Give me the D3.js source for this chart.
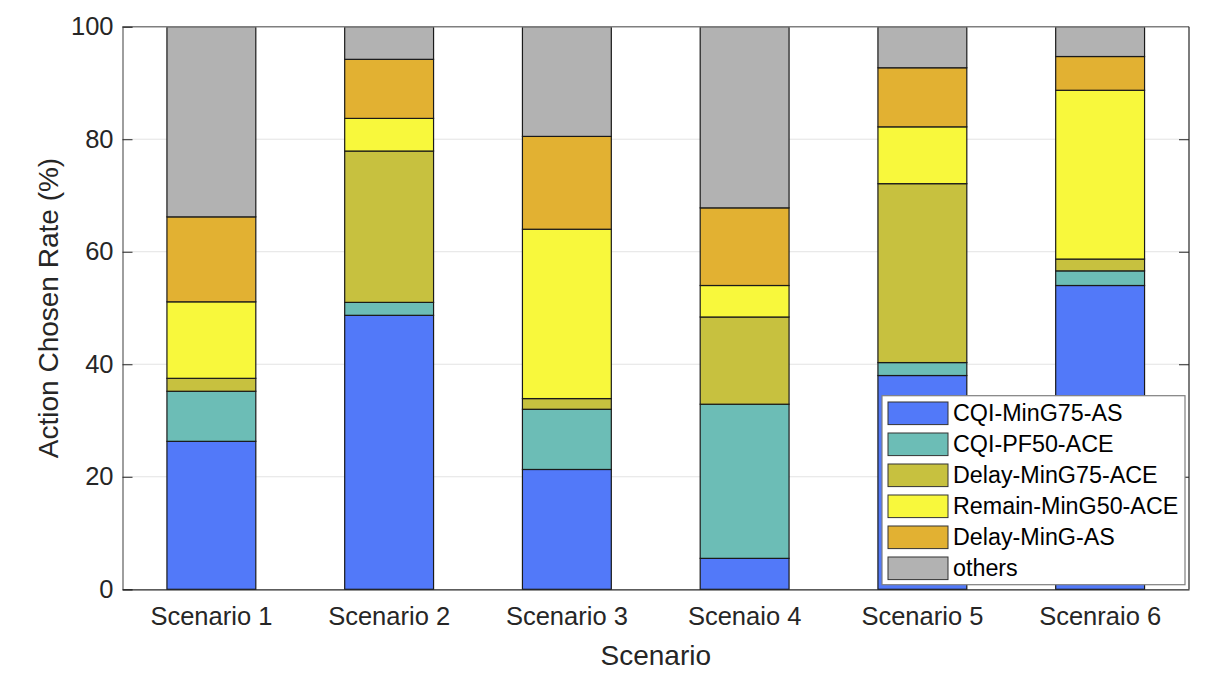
<!DOCTYPE html>
<html><head><meta charset="utf-8">
<script src="https://cdn.jsdelivr.net/npm/d3@7"></script>
<style>body{margin:0;background:#fff;} svg{display:block;}</style>
</head><body>
<svg id="chart" width="1228" height="678"></svg>
<script>
const categories = ["Scenario 1","Scenario 2","Scenario 3","Scenaio 4","Scenario 5","Scenraio 6"];
const seriesNames = ["CQI-MinG75-AS","CQI-PF50-ACE","Delay-MinG75-ACE","Remain-MinG50-ACE","Delay-MinG-AS","others"];
const colors = ["#5279f9","#6cbdb6","#c7c13f","#f8f83c","#e2b132","#b2b2b2"];
const cqiMinG75AS   = [26.3, 48.7, 21.3, 5.5, 38.0, 54.0];
const cqiPF50ACE    = [8.9, 2.3, 10.7, 27.4, 2.3, 2.6];
const delayMinG75   = [2.3, 26.9, 1.9, 15.5, 31.8, 2.1];
const remainMinG50  = [13.6, 5.8, 30.1, 5.6, 10.1, 30.0];
const delayMinGAS   = [15.1, 10.5, 16.5, 13.8, 10.5, 6.0];
const others        = [33.8, 5.8, 19.5, 32.2, 7.3, 5.3];
const yTicks = [0,20,40,60,80,100];

const seriesValues = [cqiMinG75AS, cqiPF50ACE, delayMinG75, remainMinG50, delayMinGAS, others];
const table = categories.map((c,i)=>{const o={cat:c}; seriesNames.forEach((s,j)=>o[s]=seriesValues[j][i]); return o;});
const stacked = d3.stack().keys(seriesNames)(table);

const svg = d3.select("#chart");
const m = {left:122.5, right:1228-1189, top:26.7, bottom:678-589.3};
const W = 1228, H = 678;
const x = d3.scaleBand().domain(categories).range([m.left, W-m.right]).paddingInner(0.5).paddingOuter(0.25);
const y = d3.scaleLinear().domain([0,100]).range([H-m.bottom, m.top]);
const font = "'Liberation Sans', Arial, Helvetica, sans-serif";

// grid
svg.append("g").selectAll("line").data(yTicks.filter(t=>t>0&&t<100)).join("line")
  .attr("x1", m.left).attr("x2", W-m.right)
  .attr("y1", d=>y(d)).attr("y2", d=>y(d))
  .attr("stroke", "#e3e3e3").attr("stroke-width", 1);

// bars
svg.append("g").selectAll("g").data(stacked).join("g")
  .attr("fill", (d,i)=>colors[i])
  .selectAll("rect").data(d=>d).join("rect")
  .attr("x", d=>x(d.data.cat))
  .attr("width", x.bandwidth())
  .attr("y", d=>y(d[1]))
  .attr("height", d=>y(d[0])-y(d[1]))
  .attr("stroke", "#1a1a1a").attr("stroke-width", 1.2);

// axes box
const axisColor = "#7f7f7f";
svg.append("line").attr("x1",m.left).attr("x2",W-m.right).attr("y1",m.top).attr("y2",m.top).attr("stroke",axisColor).attr("stroke-width",1.5);
svg.append("line").attr("x1",W-m.right).attr("x2",W-m.right).attr("y1",m.top).attr("y2",H-m.bottom).attr("stroke","#262626").attr("stroke-width",1.2);

const yAxis = d3.axisLeft(y).tickValues(yTicks).tickSize(-10).tickPadding(9);
const gy = svg.append("g").attr("transform",`translate(${m.left},0)`).call(yAxis);
gy.select(".domain").attr("stroke",axisColor).attr("stroke-width",1.5);
gy.selectAll(".tick line").attr("stroke","#262626");
gy.selectAll(".tick text").attr("font-family",font).attr("font-size",25.5).attr("fill","#262626");

const yAxisR = d3.axisRight(y).tickValues(yTicks.filter(t=>t>0&&t<100)).tickSize(-10).tickFormat("");
const gyr = svg.append("g").attr("transform",`translate(${W-m.right},0)`).call(yAxisR);
gyr.select(".domain").remove();
gyr.selectAll(".tick line").attr("stroke","#262626");

const xAxis = d3.axisBottom(x).tickSize(0).tickPadding(18);
const gx = svg.append("g").attr("transform",`translate(0,${H-m.bottom})`).call(xAxis);
gx.select(".domain").attr("stroke","#262626").attr("stroke-width",1.2);
gx.selectAll(".tick text").attr("font-family",font).attr("font-size",25.5).attr("fill","#262626");

// axis labels
svg.append("text").attr("x",(m.left+W-m.right)/2).attr("y",665).attr("text-anchor","middle")
  .attr("font-family",font).attr("font-size",28).attr("fill","#262626").text("Scenario");
svg.append("text").attr("transform",`translate(58,${(m.top+H-m.bottom)/2}) rotate(-90)`).attr("text-anchor","middle")
  .attr("font-family",font).attr("font-size",28).attr("fill","#262626").text("Action Chosen Rate (%)");

// legend
const lg = svg.append("g");
lg.append("rect").attr("x",882).attr("y",395.7).attr("width",303).attr("height",189)
  .attr("fill","#fff").attr("stroke","#7f7f7f").attr("stroke-width",1.2);
const rows = lg.selectAll("g").data(seriesNames).join("g")
  .attr("transform",(d,i)=>`translate(0,${413.3 + i*31})`);
rows.append("rect").attr("x",888).attr("y",-11.3).attr("width",60).attr("height",22.6)
  .attr("fill",(d,i)=>colors[i]).attr("stroke","#333").attr("stroke-width",1);
rows.append("text").attr("x",953).attr("y",0).attr("dy","0.35em")
  .attr("font-family",font).attr("font-size",23.3).attr("fill","#000").text(d=>d);
</script>
</body></html>
